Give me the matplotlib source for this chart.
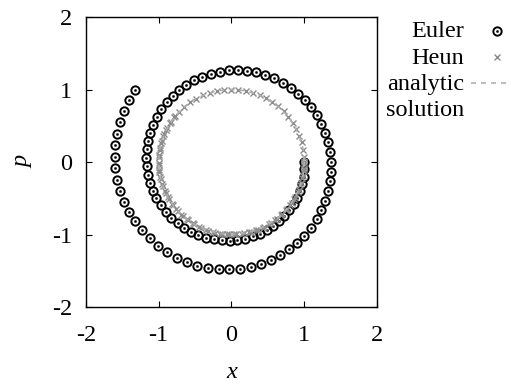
import os
import matplotlib
matplotlib.use("Agg")
import matplotlib.pyplot as plt
from matplotlib.lines import Line2D
from matplotlib import font_manager as fm

_names = {f.name for f in fm.fontManager.ttflist}
_serif = 'DejaVu Serif'
for cand in ['Liberation Serif', 'Times New Roman', 'STIXGeneral', 'Nimbus Roman',
             'TeX Gyre Termes', 'Tinos', 'FreeSerif']:
    if cand in _names:
        _serif = cand
        break
plt.rcParams['font.family'] = [_serif, 'DejaVu Serif']
plt.rcParams['axes.unicode_minus'] = False

# Euler method points (x, p)
euler_x = [1.000, 1.000, 0.990, 0.970, 0.940, 0.901, 0.852, 0.793, 0.727, 0.653,
           0.571, 0.483, 0.389, 0.290, 0.187, 0.082, -0.026, -0.134, -0.242, -0.349,
           -0.453, -0.554, -0.650, -0.741, -0.825, -0.902, -0.970, -1.030, -1.079, -1.119,
           -1.148, -1.165, -1.171, -1.166, -1.148, -1.119, -1.079, -1.027, -0.965, -0.892,
           -0.810, -0.718, -0.619, -0.513, -0.400, -0.282, -0.160, -0.035, 0.091, 0.218,
           0.343, 0.467, 0.587, 0.703, 0.812, 0.915, 1.009, 1.094, 1.170, 1.234,
           1.286, 1.327, 1.354, 1.368, 1.369, 1.356, 1.329, 1.288, 1.235, 1.168,
           1.089, 0.999, 0.897, 0.786, 0.665, 0.537, 0.402, 0.262, 0.118, -0.029,
           -0.178, -0.325, -0.471, -0.614, -0.752, -0.884, -1.009, -1.124, -1.230, -1.324,
           -1.406, -1.475, -1.529, -1.569, -1.594, -1.603, -1.596, -1.573, -1.534, -1.479,
           -1.409, -1.324]
euler_p = [0.000, -0.100, -0.200, -0.299, -0.396, -0.490, -0.580, -0.665, -0.745, -0.817,
           -0.883, -0.940, -0.988, -1.027, -1.056, -1.074, -1.083, -1.080, -1.067, -1.042,
           -1.007, -0.962, -0.907, -0.842, -0.768, -0.685, -0.595, -0.498, -0.395, -0.287,
           -0.175, -0.060, 0.056, 0.173, 0.290, 0.405, 0.516, 0.624, 0.727, 0.824,
           0.913, 0.994, 1.066, 1.128, 1.179, 1.219, 1.247, 1.263, 1.266, 1.257,
           1.236, 1.201, 1.155, 1.096, 1.026, 0.944, 0.853, 0.752, 0.643, 0.526,
           0.402, 0.274, 0.141, 0.006, -0.131, -0.268, -0.404, -0.537, -0.665, -0.789,
           -0.906, -1.015, -1.114, -1.204, -1.283, -1.349, -1.403, -1.443, -1.469, -1.481,
           -1.478, -1.460, -1.428, -1.381, -1.319, -1.244, -1.156, -1.055, -0.942, -0.820,
           -0.687, -0.547, -0.399, -0.246, -0.089, 0.070, 0.230, 0.390, 0.547, 0.701,
           0.849, 0.989]

# Heun method points (x, p)
heun_x = [1.000, 0.995, 0.980, 0.955, 0.921, 0.877, 0.825, 0.764, 0.696, 0.620,
          0.539, 0.452, 0.361, 0.265, 0.168, 0.068, -0.032, -0.132, -0.230, -0.326,
          -0.419, -0.508, -0.591, -0.669, -0.740, -0.804, -0.859, -0.906, -0.944, -0.972,
          -0.991, -0.999, -0.998, -0.987, -0.965, -0.934, -0.894, -0.845, -0.787, -0.721,
          -0.649, -0.569, -0.484, -0.394, -0.300, -0.204, -0.105, -0.005, 0.095, 0.195,
          0.292, 0.386, 0.476, 0.562, 0.642, 0.715, 0.781, 0.840, 0.890, 0.931,
          0.963, 0.985, 0.997, 1.000, 0.992, 0.974, 0.947, 0.910, 0.864, 0.809,
          0.746, 0.676, 0.599, 0.516, 0.428, 0.335, 0.239, 0.141, 0.041, -0.059,
          -0.159, -0.257, -0.352, -0.444, -0.531, -0.613, -0.689, -0.758, -0.820, -0.873,
          -0.917, -0.952, -0.978, -0.994, -1.000, -0.996, -0.982, -0.958, -0.924, -0.882,
          -0.830, -0.770]
heun_p = [0.000, -0.100, -0.199, -0.296, -0.390, -0.480, -0.565, -0.645, -0.718, -0.784,
          -0.842, -0.892, -0.933, -0.964, -0.986, -0.998, -0.999, -0.991, -0.973, -0.945,
          -0.908, -0.862, -0.806, -0.743, -0.673, -0.595, -0.512, -0.423, -0.331, -0.235,
          -0.136, -0.036, 0.064, 0.163, 0.261, 0.356, 0.448, 0.535, 0.617, 0.692,
          0.761, 0.822, 0.875, 0.919, 0.954, 0.979, 0.995, 1.000, 0.995, 0.981,
          0.957, 0.923, 0.879, 0.827, 0.767, 0.699, 0.624, 0.543, 0.456, 0.365,
          0.270, 0.172, 0.073, -0.027, -0.127, -0.226, -0.322, -0.415, -0.504, -0.588,
          -0.666, -0.737, -0.801, -0.857, -0.904, -0.942, -0.971, -0.990, -0.999, -0.998,
          -0.987, -0.967, -0.936, -0.896, -0.847, -0.790, -0.725, -0.652, -0.573, -0.488,
          -0.398, -0.305, -0.208, -0.109, -0.009, 0.091, 0.190, 0.287, 0.382, 0.472,
          0.558, 0.638]

# Analytic solution (unit circle)
ana_x = [1, .985, .940, .866, .766, .643, .5, .342, .174, 0, -.174, -.342, -.5, -.643,
         -.766, -.866, -.940, -.985, -1, -.985, -.940, -.866, -.766, -.643, -.5, -.342,
         -.174, 0, .174, .342, .5, .643, .766, .866, .940, .985, 1]
ana_p = [0, -.174, -.342, -.5, -.643, -.766, -.866, -.940, -.985, -1, -.985, -.940,
         -.866, -.766, -.643, -.5, -.342, -.174, 0, .174, .342, .5, .643, .766, .866,
         .940, .985, 1, .985, .940, .866, .766, .643, .5, .342, .174, 0]

ticks = [-2, -1, 0, 1, 2]
tick_labels = ['-2', '-1', '0', '1', '2']

FS = 17.5

fig = plt.figure(figsize=(5.11, 3.85), dpi=100)
ax = fig.add_axes([0.168, 0.2026, 0.570, 0.7532])

euler_style = dict(ls='none', marker='o', ms=6.0, mfc='none', mec='black', mew=1.4)
dot_style = dict(ls='none', marker='o', ms=1.6, mfc='black', mec='black', mew=0.3)
heun_style = dict(ls='none', marker='x', ms=4.8, mec='#8c8c8c', mew=1.0)
ana_style = dict(color='#b0b0b0', lw=1.2, ls=(0, (3, 3)))

ax.plot(euler_x, euler_p, **euler_style)
ax.plot(euler_x, euler_p, **dot_style)
ax.plot(heun_x, heun_p, **heun_style)
ax.plot(ana_x, ana_p, **ana_style)

ax.set_xlim(-2, 2)
ax.set_ylim(-2, 2)
ax.set_xticks(ticks)
ax.set_xticklabels(tick_labels)
ax.set_yticks(ticks)
ax.set_yticklabels(tick_labels)
ax.tick_params(direction='in', length=4, width=0.8, top=True, right=True,
               labelsize=FS)
ax.tick_params(axis='x', pad=13)
ax.tick_params(axis='y', pad=10)
for s in ax.spines.values():
    s.set_linewidth(1.0)

W, H = 511, 385
def fx(px):
    return px / W
def fy(py):
    return 1 - py / H

fig.text(fx(231.5), fy(373), 'x', ha='center', va='center', fontsize=FS,
         fontstyle='italic')
fig.text(fx(23), fy(162), 'p', ha='center', va='center', fontsize=FS,
         fontstyle='italic', rotation=90)

# legend (manual, gnuplot-like: right-aligned text, sample on right)
fig.text(fx(464), fy(37), 'Euler', ha='right', va='baseline', fontsize=FS)
fig.text(fx(464), fy(64), 'Heun', ha='right', va='baseline', fontsize=FS)
fig.text(fx(464), fy(90), 'analytic', ha='right', va='baseline', fontsize=FS)
fig.text(fx(464), fy(116), 'solution', ha='right', va='baseline', fontsize=FS)
fig.add_artist(Line2D([fx(497)], [fy(31)], transform=fig.transFigure, **euler_style))
fig.add_artist(Line2D([fx(497)], [fy(31)], transform=fig.transFigure, **dot_style))
fig.add_artist(Line2D([fx(497)], [fy(57)], transform=fig.transFigure, **heun_style))
fig.add_artist(Line2D([fx(471), fx(511)], [fy(83), fy(83)], transform=fig.transFigure,
                      **ana_style))

fig.savefig('out.png', dpi=100)
